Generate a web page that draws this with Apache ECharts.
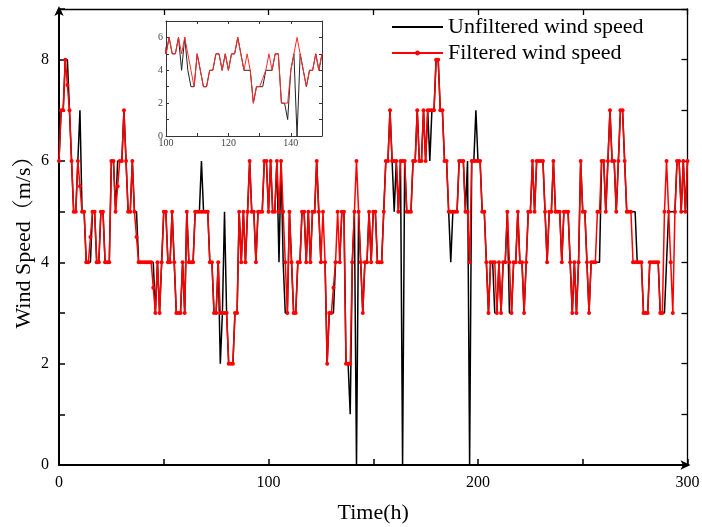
<!DOCTYPE html>
<html><head><meta charset="utf-8">
<script src="https://cdn.jsdelivr.net/npm/echarts@6/dist/echarts.min.js"></script>
<style>html,body{margin:0;padding:0;background:#fff}#c{width:702px;height:527px}</style>
</head><body><div id="c"></div>
<script>
// Hour 0..300, one value per hour
const filtered = [
6,7,7,8,7.5,7,6,5,5,6, 5.5,5,5,4,4,4.5,5,5,4,4, 5,5,4,4,4,6,6,5,5.5,6, 6,7,6,5,5,6,5,4.5,4,4,
4,4,4,4,4,3.5,3,4,3,4, 5,5,4,4,5,4,3,3,3,4, 3,5,4,4,4,5,5,5,5,5, 5,5,4,4,3,3,4,3,3,3,
3,2,2,2,3,3,5,4,5,4, 5,6,5,5,4,5,5,5,6,6, 5,6,5,5,6,5,6,5,4,3, 5,4,3,3,4,4,5,5,4,5,
4,5,5,6,5,4,5,4,2,3, 3,3.5,4,5,4,5,5,2,2,2, 4,5,6,5,4,3,4,4,5,4, 5,5,4,4,4,5,6,6,7,6,
6,6,5,6,6,6,5,5,5,6, 6,7,6,6,7,6,7,7,7,7, 8,8,7,7,6,6,5,5,5,5, 5,6,6,6,5,5,4,6,6,6,
6,6,5,5,4,3,4,4,4,3, 4,3,4,4,5,4,3,4,4,5, 4,4,3,4,5,5,6,5,6,6, 6,6,5,4,5,5,6,5,5,5,
4,5,5,5,4,3,4,3,4,6, 5,5,4,3,4,4,4,5,5,6, 6,5,6,7,6,6,5,6,7,7, 6,5,5,5,4,4,4,4,4,3,
3,3,4,4,4,4,4,3,3,5, 6,5,4,3,5,6,6,5,6,5, 6
];
const unfiltered = [
6,7,7,8,8,7,6,5,5,6, 7,5,5,4,4,4,5,5,4,4, 5,5,4,4,4,6,6,5,6,6, 6,7,6,5,5,6,5,5,4,4,
4,4,4,4,4,4,3,4,3,4, 5,5,4,4,5,4,3,3,3,4, 3,5,4,4,4,5,5,5,6,5, 5,5,4,4,3,3,4,2,3,5,
3,2,2,2,3,3,5,4,5,4, 5,6,5,5,4,5,5,5,6,6, 5,6,5,5,6,4,6,4,3,3, 5,4,3,3,4,4,5,5,4,5,
4,5,5,6,5,4,4,4,2,3, 3,3,4,4,4,5,5,2,2,1, 4,5,0,5,4,3,4,4,5,4, 5,5,4,4,4,5,6,6,7,6,
5,6,5,6,0,6,5,5,5,6, 6,7,6,6,7,6,7,6,7,7, 8,8,7,7,6,6,5,4,5,5, 5,6,6,6,5,6,0,6,6,7,
6,6,5,5,4,3,4,4,3,3, 4,3,4,4,5,3,3,4,4,5, 4,4,3,4,5,5,6,5,6,6, 6,6,5,4,5,5,6,5,5,5,
4,5,5,5,4,3,4,3,4,6, 5,5,4,3,4,4,4,4,4,6, 6,5,6,7,6,6,5,6,7,7, 6,5,5,5,5,5,4,4,4,3,
3,3,4,4,4,4,4,3,3,3, 4,5,5,5,5,6,6,5,6,5, 6
];
const xTickLabels = ['0','100','200','300'];
const yTickLabels = ['0','2','4','6','8'];
const insetXTickLabels = ['100','120','140'];
const insetYTickLabels = ['0','2','4','6'];
const seriesNames = ['Unfiltered wind speed','Filtered wind speed'];

const toPairs = arr => arr.map((v, i) => [i, v]);
const unfPairs = toPairs(unfiltered);
const filPairs = toPairs(filtered);

const serif = '"Liberation Serif","Times New Roman","Noto Serif CJK SC","Noto Sans CJK SC",serif';
const lbl = list => (v => list.includes(String(v)) ? String(v) : '');

const chart = echarts.init(document.getElementById('c'), null, {renderer: 'canvas'});
chart.setOption({
  animation: false,
  backgroundColor: '#fff',
  grid: [
    {left: 59, right: 14.5, top: 9, bottom: 62, outerBoundsMode: 'none', containLabel: false},
    {left: 166, top: 21, width: 156, height: 115, show: true, backgroundColor: '#fff', borderWidth: 0, outerBoundsMode: 'none', containLabel: false, z: 5}
  ],
  legend: {
    data: [
      {name: seriesNames[0], itemStyle: {color: 'rgba(0,0,0,0)', borderWidth: 0}},
      {name: seriesNames[1]}
    ],
    orient: 'vertical',
    left: 391, top: 16, padding: 0,
    itemWidth: 51, itemHeight: 6, itemGap: 4,
    textStyle: {fontFamily: serif, fontSize: 22, color: '#000'}
  },
  xAxis: [
    {gridIndex: 0, type: 'value', position: 'bottom', min: 0, max: 300, interval: 50,
     axisLine: {show: true, lineStyle: {color: '#000', width: 2}, symbol: ['none', 'arrow'], symbolSize: [7, 10], symbolOffset: [0, 3]},
     axisTick: {show: true, inside: true, length: 6, lineStyle: {color: '#000', width: 1.5}},
     axisLabel: {formatter: lbl(xTickLabels), fontFamily: serif, fontSize: 16, color: '#000', margin: 10},
     splitLine: {show: false},
     name: 'Time(h)', nameLocation: 'middle', nameGap: 37, nameMoveOverlap: false,
     nameTextStyle: {fontFamily: serif, fontSize: 22, color: '#000'}},
    {gridIndex: 0, type: 'value', position: 'top', min: 0, max: 300, interval: 50,
     axisLine: {show: true, onZero: false, lineStyle: {color: '#000', width: 1.3}},
     axisTick: {show: true, inside: true, length: 6, lineStyle: {color: '#000', width: 1.3}},
     axisLabel: {show: false}, splitLine: {show: false}},
    {gridIndex: 1, type: 'value', position: 'bottom', min: 100, max: 150, interval: 10,
     axisLine: {show: true, onZero: false, lineStyle: {color: '#333', width: 1}},
     axisTick: {show: true, inside: true, length: 3, lineStyle: {color: '#333', width: 1}},
     axisLabel: {formatter: lbl(insetXTickLabels), fontFamily: serif, fontSize: 10, color: '#444', margin: 2},
     splitLine: {show: false}, z: 6},
    {gridIndex: 1, type: 'value', position: 'top', min: 100, max: 150, interval: 10,
     axisLine: {show: true, onZero: false, lineStyle: {color: '#333', width: 1}},
     axisTick: {show: true, inside: true, length: 3, lineStyle: {color: '#333', width: 1}},
     axisLabel: {show: false}, splitLine: {show: false}, z: 6}
  ],
  yAxis: [
    {gridIndex: 0, type: 'value', position: 'left', min: 0, max: 9, interval: 1,
     axisLine: {show: true, lineStyle: {color: '#000', width: 2}, symbol: ['none', 'arrow'], symbolSize: [7, 10], symbolOffset: [0, 3]},
     axisTick: {show: true, inside: true, length: 6, lineStyle: {color: '#000', width: 1.5}},
     axisLabel: {formatter: lbl(yTickLabels), fontFamily: serif, fontSize: 16, color: '#000', margin: 10},
     splitLine: {show: false},
     name: 'Wind Speed（m/s）', nameLocation: 'middle', nameGap: 24, nameMoveOverlap: false,
     nameTextStyle: {fontFamily: serif, fontSize: 22, color: '#000'}},
    {gridIndex: 0, type: 'value', position: 'right', min: 0, max: 9, interval: 1,
     axisLine: {show: true, onZero: false, lineStyle: {color: '#000', width: 1.3}},
     axisTick: {show: true, inside: true, length: 6, lineStyle: {color: '#000', width: 1.3}},
     axisLabel: {show: false}, splitLine: {show: false}},
    {gridIndex: 1, type: 'value', position: 'left', min: 0, max: 7, interval: 1,
     axisLine: {show: true, onZero: false, lineStyle: {color: '#333', width: 1}},
     axisTick: {show: true, inside: true, length: 3, lineStyle: {color: '#333', width: 1}},
     axisLabel: {formatter: lbl(insetYTickLabels), fontFamily: serif, fontSize: 10, color: '#444', margin: 3},
     splitLine: {show: false}, z: 6},
    {gridIndex: 1, type: 'value', position: 'right', min: 0, max: 7, interval: 1,
     axisLine: {show: true, onZero: false, lineStyle: {color: '#333', width: 1}},
     axisTick: {show: true, inside: true, length: 3, lineStyle: {color: '#333', width: 1}},
     axisLabel: {show: false}, splitLine: {show: false}, z: 6}
  ],
  series: [
    {name: seriesNames[0], type: 'line', xAxisIndex: 0, yAxisIndex: 0, data: unfPairs,
     symbol: 'none', showSymbol: false, lineStyle: {color: '#000', width: 1.5}, itemStyle: {color: '#000'}, z: 2},
    {name: seriesNames[1], type: 'line', xAxisIndex: 0, yAxisIndex: 0, data: filPairs,
     symbol: 'circle', symbolSize: 4, showSymbol: true, lineStyle: {color: '#ff0000', width: 1.5}, itemStyle: {color: '#ff0000'}, z: 3},
    {name: 'inset-unfiltered', type: 'line', xAxisIndex: 2, yAxisIndex: 2, data: unfPairs,
     symbol: 'none', showSymbol: false, clip: true, lineStyle: {color: '#222', width: 1}, z: 6},
    {name: 'inset-filtered', type: 'line', xAxisIndex: 2, yAxisIndex: 2, data: filPairs,
     symbol: 'none', showSymbol: false, clip: true, lineStyle: {color: '#ff2a2a', width: 1}, z: 7}
  ]
});
</script>
</body></html>
